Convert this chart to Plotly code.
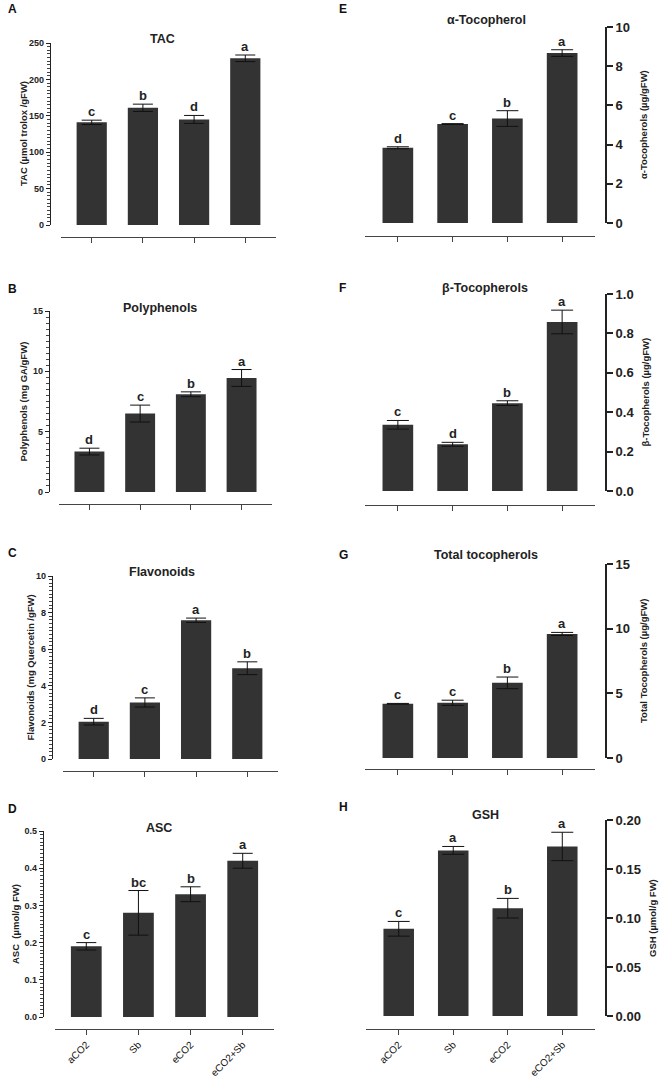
import plotly.graph_objects as go

# ---------------- data ----------------
categories = ["aCO2", "Sb", "eCO2", "eCO2+Sb"]

tac = [141, 161, 145, 229]
tac_err = [3, 5, 5.5, 4.5]
tac_letters = ["c", "b", "d", "a"]

poly = [3.35, 6.5, 8.1, 9.45]
poly_err = [0.28, 0.7, 0.2, 0.7]
poly_letters = ["d", "c", "b", "a"]

flav = [2.04, 3.09, 7.58, 4.96]
flav_err = [0.18, 0.25, 0.12, 0.35]
flav_letters = ["d", "c", "a", "b"]

asc = [0.19, 0.28, 0.33, 0.42]
asc_err = [0.01, 0.06, 0.02, 0.02]
asc_letters = ["c", "bc", "b", "a"]

atoc = [3.84, 5.05, 5.33, 8.67]
atoc_err = [0.05, 0.02, 0.4, 0.17]
atoc_letters = ["d", "c", "b", "a"]

btoc = [0.336, 0.237, 0.446, 0.858]
btoc_err = [0.022, 0.01, 0.012, 0.06]
btoc_letters = ["c", "d", "b", "a"]

ttoc = [4.19, 4.27, 5.81, 9.59]
ttoc_err = [0.03, 0.2, 0.45, 0.12]
ttoc_letters = ["c", "c", "b", "a"]

gsh = [0.089, 0.169, 0.11, 0.173]
gsh_err = [0.0075, 0.004, 0.01, 0.0145]
gsh_letters = ["c", "a", "b", "a"]

# ---------------- layout geometry (pixels) ----------------
W, H = 659, 1079
FONT = "Arial, Liberation Sans, sans-serif"

panels = [
    dict(L="A", title="TAC", ytitle="TAC (µmol trolox /gFW)", v=tac, e=tac_err, let=tac_letters,
         yr=[0, 250], dt=50, mn=5, fmt="", side="left", yx=50, yd=(43, 225), xd=(61, 276), xl=237,
         t=(162, 39), lp=(6, 9), ytx=24, xlab=False),
    dict(L="B", title="Polyphenols", ytitle="Polyphenols (mg GA/gFW)", v=poly, e=poly_err, let=poly_letters,
         yr=[0, 15], dt=5, mn=0.5, fmt="", side="left", yx=49, yd=(311, 492), xd=(59, 272), xl=504,
         t=(160, 308), lp=(6, 289), ytx=23, xlab=False),
    dict(L="C", title="Flavonoids", ytitle="Flavonoids (mg Quercetin /gFW)", v=flav, e=flav_err, let=flav_letters,
         yr=[0, 10], dt=2, mn=0.2, fmt="", side="left", yx=52, yd=(576, 759), xd=(63, 278), xl=771,
         t=(162, 572), lp=(6, 553), ytx=30, xlab=False),
    dict(L="D", title="ASC", ytitle="ASC  (µmol/g FW)", v=asc, e=asc_err, let=asc_letters,
         yr=[0, 0.5], dt=0.1, mn=0.01, fmt=".1f", side="left", yx=43, yd=(831, 1017), xd=(55, 274), xl=1029,
         t=(159, 828), lp=(6, 809), ytx=15, xlab=True),
    dict(L="E", title="α-Tocopherol", ytitle="α-Tocopherols (µg/gFW)", v=atoc, e=atoc_err, let=atoc_letters,
         yr=[0, 10], dt=2, mn=None, fmt="", side="right", yx=606, yd=(27, 223), xd=(365, 595), xl=236,
         t=(487, 20), lp=(337, 9), ytx=643, xlab=False),
    dict(L="F", title="β-Tocopherols", ytitle="β-Tocopherols (µg/gFW)", v=btoc, e=btoc_err, let=btoc_letters,
         yr=[0, 1.0], dt=0.2, mn=None, fmt=".1f", side="right", yx=606, yd=(294, 491), xd=(365, 595), xl=505,
         t=(485, 288), lp=(337, 288), ytx=645, xlab=False),
    dict(L="G", title="Total tocopherols", ytitle="Total Tocopherols (µg/gFW)", v=ttoc, e=ttoc_err, let=ttoc_letters,
         yr=[0, 15], dt=5, mn=None, fmt="", side="right", yx=606, yd=(564, 758), xd=(365, 595), xl=769,
         t=(486, 555), lp=(337, 555), ytx=643, xlab=False),
    dict(L="H", title="GSH", ytitle="GSH (µmol/g FW)", v=gsh, e=gsh_err, let=gsh_letters,
         yr=[0, 0.2], dt=0.05, mn=None, fmt=".2f", side="right", yx=606, yd=(820, 1016), xd=(366, 595), xl=1029,
         t=(485, 815), lp=(337, 807), ytx=652, xlab=True),
]

def px(x):
    return x / W

def py(y):
    return 1 - y / H

fig = go.Figure()
annotations = []
layout = {}

for i, p in enumerate(panels, start=1):
    xa = "x" if i == 1 else f"x{i}"
    ya = "y" if i == 1 else f"y{i}"
    left = p["side"] == "left"
    fig.add_trace(go.Bar(
        x=categories, y=p["v"], xaxis=xa, yaxis=ya,
        marker=dict(color="#333333", line=dict(width=0)),
        width=0.59 if left else 0.56,
        error_y=dict(type="data", array=p["e"], visible=True, color="#111111",
                     thickness=1, width=10 if left else 11),
        showlegend=False, hoverinfo="skip",
    ))
    xkey = "xaxis" if i == 1 else f"xaxis{i}"
    ykey = "yaxis" if i == 1 else f"yaxis{i}"
    layout[xkey] = dict(
        domain=[px(p["xd"][0]), px(p["xd"][1])],
        anchor="free", position=py(p["xl"]), automargin=False,
        type="category", range=[-0.6, 3.6],
        showline=True, linecolor="#444444", linewidth=1.2,
        ticks="outside", ticklen=5, tickcolor="#444444", tickwidth=1.2,
        showticklabels=p["xlab"], tickangle=-45,
        tickfont=dict(family=FONT, size=10, color="#111111"),
        showgrid=False, zeroline=False, fixedrange=True,
    )
    ydict = dict(
        domain=[py(p["yd"][1]), py(p["yd"][0])],
        anchor="free", position=px(p["yx"]), side=p["side"], automargin=False,
        range=p["yr"], dtick=p["dt"], tick0=0,
        showline=True, linecolor="#222222", linewidth=1.3 if left else 2,
        ticks="outside", ticklen=4 if left else 6, tickwidth=1.3 if left else 2,
        tickcolor="#222222",
        tickfont=dict(family=FONT, size=9 if left else 13, color="#222222", weight="bold"),
        showgrid=False, zeroline=False, fixedrange=True,
    )
    if p["fmt"]:
        ydict["tickformat"] = p["fmt"]
    if p["mn"] is not None:
        ydict["minor"] = dict(dtick=p["mn"], ticks="outside", ticklen=2.5,
                              tickwidth=1, tickcolor="#444444", showgrid=False)
    layout[ykey] = ydict

    annotations.append(dict(text=f"<b>{p['L']}</b>", x=px(p["lp"][0]), y=py(p["lp"][1]),
                            xref="paper", yref="paper", xanchor="left", yanchor="middle",
                            showarrow=False, font=dict(family=FONT, size=12, color="#111111")))
    annotations.append(dict(text=f"<b>{p['title']}</b>", x=px(p["t"][0]), y=py(p["t"][1]),
                            xref="paper", yref="paper", xanchor="center", yanchor="middle",
                            showarrow=False, font=dict(family=FONT, size=12.5, color="#222222")))
    annotations.append(dict(text=f"<b>{p['ytitle']}</b>", x=px(p["ytx"]),
                            y=py((p["yd"][0] + p["yd"][1]) / 2),
                            xref="paper", yref="paper", xanchor="center", yanchor="middle",
                            textangle=-90, showarrow=False,
                            font=dict(family=FONT, size=9.5, color="#222222")))
    for c, v, e, s in zip(categories, p["v"], p["e"], p["let"]):
        annotations.append(dict(text=f"<b>{s}</b>", x=c, y=v + e, xref=xa, yref=ya,
                                xanchor="center", yanchor="bottom", yshift=-1,
                                showarrow=False, font=dict(family=FONT, size=13, color="#222222")))

fig.update_layout(
    template="none",
    width=W, height=H,
    margin=dict(l=0, r=0, t=0, b=0, pad=0, autoexpand=False),
    paper_bgcolor="white", plot_bgcolor="white",
    annotations=annotations,
    bargap=0.4,
    **layout,
)

fig.write_html("out.html", config={"displayModeBar": False},
               post_script="document.body.style.margin='0';document.body.style.padding='0';")
